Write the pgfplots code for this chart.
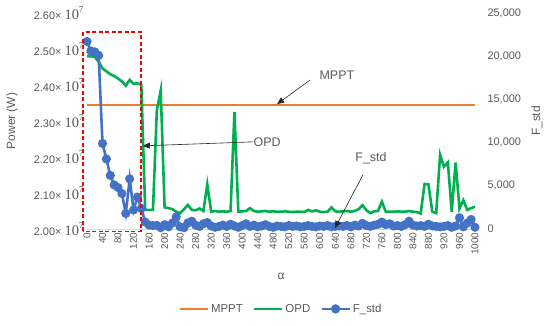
\documentclass[border=0pt]{standalone}
\usepackage{pgfplots}
\pgfplotsset{compat=1.18}
\usepackage{pgfplotstable}
\usepackage{fontspec}
\setmainfont{Liberation Sans}
\newfontfamily\seriffont{Liberation Serif}
\usetikzlibrary{arrows.meta}
\definecolor{mppt}{HTML}{ED7D31}
\definecolor{opd}{HTML}{00B050}
\definecolor{fstd}{HTML}{4472C4}
\definecolor{txt}{HTML}{595959}
\definecolor{axl}{HTML}{D9D9D9}

\pgfplotstableread{
a mppt opd fstd
0 2.345 2.480 21700
10 2.345 2.480 20600
20 2.345 2.478 20500
30 2.345 2.465 20100
40 2.345 2.446 9900
50 2.345 2.438 8100
60 2.345 2.430 6200
70 2.345 2.425 5100
80 2.345 2.418 4800
90 2.345 2.410 4100
100 2.345 2.398 1800
110 2.345 2.414 5800
120 2.345 2.403 2200
130 2.345 2.405 3700
140 2.345 2.400 2400
150 2.345 2.053 800
160 2.345 2.053 450
170 2.345 2.053 400
180 2.345 2.330 420
190 2.345 2.385 150
200 2.345 2.060 500
210 2.345 2.058 250
220 2.345 2.055 700
230 2.345 2.048 1400
240 2.345 2.044 250
250 2.345 2.055 150
260 2.345 2.067 700
270 2.345 2.053 900
280 2.345 2.052 450
290 2.345 2.057 300
300 2.345 2.050 600
310 2.345 2.124 750
320 2.345 2.048 350
330 2.345 2.050 200
340 2.345 2.048 300
350 2.345 2.049 450
360 2.345 2.048 300
370 2.345 2.050 550
380 2.345 2.325 350
390 2.345 2.048 200
400 2.345 2.049 400
410 2.345 2.050 600
420 2.345 2.058 300
430 2.345 2.050 450
440 2.345 2.048 250
450 2.345 2.049 350
460 2.345 2.050 500
470 2.345 2.048 300
480 2.345 2.049 200
490 2.345 2.048 350
500 2.345 2.048 300
510 2.345 2.049 250
520 2.345 2.048 400
530 2.345 2.047 300
540 2.345 2.048 350
550 2.345 2.048 250
560 2.345 2.047 300
570 2.345 2.053 400
580 2.345 2.049 300
590 2.345 2.052 250
600 2.345 2.048 350
610 2.345 2.047 300
620 2.345 2.048 400
630 2.345 2.060 250
640 2.345 2.049 300
650 2.345 2.048 350
660 2.345 2.049 300
670 2.345 2.050 400
680 2.345 2.048 250
690 2.345 2.050 450
700 2.345 2.055 350
710 2.345 2.066 650
720 2.345 2.052 400
730 2.345 2.044 300
740 2.345 2.049 450
750 2.345 2.050 550
760 2.345 2.076 800
770 2.345 2.048 500
780 2.345 2.048 600
790 2.345 2.048 350
800 2.345 2.049 400
810 2.345 2.048 300
820 2.345 2.048 500
830 2.345 2.050 900
840 2.345 2.048 450
850 2.345 2.047 350
860 2.345 2.043 400
870 2.345 2.125 300
880 2.345 2.124 550
890 2.345 2.048 350
900 2.345 2.044 300
910 2.345 2.206 250
920 2.345 2.173 300
930 2.345 2.185 400
940 2.345 2.048 200
950 2.345 2.185 350
960 2.345 2.057 1300
970 2.345 2.080 250
980 2.345 2.053 700
990 2.345 2.058 1100
1000 2.345 2.062 200
}\data

\pgfplotsset{
  every axis/.append style={
    scale only axis, width=388bp, height=216bp,
    at={(87bp,97bp)}, anchor=south west,
    xmin=0, xmax=1000,
    major tick length=0pt,
    /pgf/number format/assume math mode=true,
    tick label style={font=\fontsize{11}{12}\selectfont, text=txt},
    label style={font=\fontsize{12}{14}\selectfont, text=txt},
  },
}

\begin{document}
\begin{tikzpicture}
\useasboundingbox (0,0) rectangle (550bp,326bp);
\begin{axis}[
  ymin=2.0, ymax=2.6,
  axis x line*=bottom, axis y line*=left,
  x axis line style={draw=axl, line width=0.8bp, -},
  y axis line style={draw=none},
  xtick={0,40,...,1000},
  xticklabel style={rotate=90, anchor=east, font=\fontsize{10}{12}\selectfont, /pgf/number format/1000 sep={}},
  ytick={2.0,2.1,...,2.61},
  yticklabel={\pgfmathprintnumber[fixed,fixed zerofill,precision=2]{\tick}×\hspace{3bp}{\seriffont\fontsize{14.5}{15}\selectfont 10}\raisebox{1.1ex}{\seriffont\fontsize{9}{9}\selectfont 7}},
  ylabel={Power (W)},
  ylabel style={at={(axis description cs:-0.193,0.5)}, anchor=center, rotate=0},
  xlabel={α},
  xlabel style={at={(axis description cs:0.5,-0.218)}, anchor=center},
  clip=false,
  legend columns=3,
  legend style={at={(axis description cs:0.5,-0.37)}, anchor=center, draw=none, fill=none,
    font=\fontsize{11.5}{13}\selectfont, text=txt,
    /tikz/every even column/.append style={column sep=8bp}},
  legend image code/.code={\draw[#1] (0bp,0bp) -- (28bp,0bp);},
]
\addplot[mppt, line width=2.6bp, no marks] table[x=a, y=mppt] {\data};
\addlegendentry{MPPT}
\addplot[opd, line width=2.6bp, no marks] table[x=a, y=opd] {\data};
\addlegendentry{OPD}
\addlegendimage{fstd, line width=2.6bp, legend image code/.code={\draw[fstd, line width=2.6bp] (0bp,0bp) -- (28bp,0bp); \fill[fstd] (14bp,0bp) circle (3.3bp);}}
\addlegendentry{F\_std}
\coordinate (r1) at (axis cs:-10,1.994);
\coordinate (r2) at (axis cs:139,2.547);
\coordinate (m1) at (axis cs:575,2.414);
\coordinate (m2) at (axis cs:490,2.347);
\coordinate (ml) at (axis cs:644,2.428);
\coordinate (o1) at (axis cs:428,2.242);
\coordinate (o2) at (axis cs:144,2.231);
\coordinate (ol) at (axis cs:490,2.244);
\coordinate (f1) at (axis cs:711,2.150);
\coordinate (f2) at (axis cs:639,2.003);
\coordinate (fl) at (axis cs:732,2.197);
\end{axis}
\begin{axis}[
  ymin=0, ymax=25000,
  hide x axis,
  axis y line*=right,
  y axis line style={draw=none},
  ytick={0,5000,...,25000},
  scaled y ticks=false,
  yticklabel style={anchor=west, xshift=9bp, /pgf/number format/1000 sep={,}},
  ylabel={F\_std},
  ylabel style={at={(axis description cs:1.160,0.5)}, anchor=center, rotate=0},
]
\addplot[fstd, line width=2.6bp, mark=*, mark size=3.2bp, mark options={fill=fstd, draw=fstd}] table[x=a, y=fstd] {\data};
\end{axis}
\draw[red, line width=1.3bp, dash pattern=on 4bp off 2.5bp] (r1) rectangle (r2);
\draw[black!85, line width=0.6bp, -{Triangle[length=7bp,width=6bp]}] (m1) -- (m2);
\draw[black!85, line width=0.6bp, -{Triangle[length=7bp,width=6bp]}] (o1) -- (o2);
\draw[black!85, line width=0.6bp, -{Triangle[length=7bp,width=6bp]}] (f1) -- (f2);
\node[text=txt, font=\fontsize{12.5}{14}\selectfont] at (ml) {MPPT};
\node[text=txt, font=\fontsize{12.5}{14}\selectfont, anchor=west] at ([xshift=-3bp]o1) {OPD};
\node[text=txt, font=\fontsize{12.5}{14}\selectfont] at (fl) {F\_std};
\end{tikzpicture}
\end{document}
